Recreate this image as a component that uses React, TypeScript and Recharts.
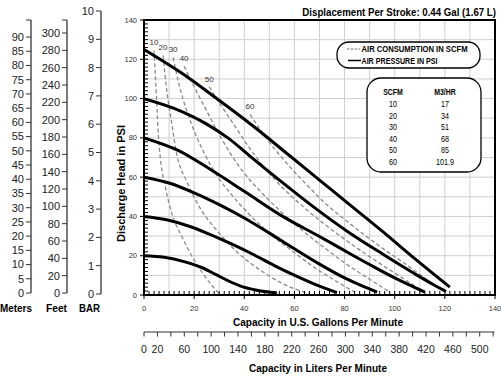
import React from 'react';
import { ComposedChart, Line, XAxis, YAxis, CartesianGrid, ReferenceArea } from 'recharts';

const FONT = "'Liberation Sans', Arial, sans-serif";

// ---- axis ticks / labels ----
const gridGpm = [0, 10, 20, 30, 40, 50, 60, 70, 80, 90, 100, 110, 120, 130, 140];
const gridPsi = [0, 10, 20, 30, 40, 50, 60, 70, 80, 90, 100, 110, 120, 130, 140];
const minorTicks = Array.from({ length: 71 }, (_, i) => i * 2);
const meterTicks = [0, 5, 10, 15, 20, 25, 30, 35, 40, 45, 50, 55, 60, 65, 70, 75, 80, 85, 90, 96];
const feetTicks = [0, 20, 40, 60, 80, 100, 120, 140, 160, 180, 200, 220, 240, 260, 280, 300, 315];
const barTicks = [0, 1, 2, 3, 4, 5, 6, 7, 8, 9, 10];
const literTicks = [0, 20, 40, 60, 80, 100, 120, 140, 160, 180, 200, 220, 240, 260, 280, 300, 320, 340, 360, 380, 400, 420, 440, 460, 480, 500, 520];
const literLabels = [0, 20, 60, 100, 140, 180, 220, 260, 300, 340, 380, 420, 460, 500];

// ---- legend table ----
const scfmLevels = [10, 20, 30, 40, 50, 60];
const m3hrValues = ['17', '34', '51', '68', '85', '101.9'];

// ---- air pressure curves (gpm, psi) ----
const psi20 = [
  { gpm: 0, psi: 20 }, { gpm: 8, psi: 19.2 }, { gpm: 16, psi: 17 }, { gpm: 23, psi: 14 },
  { gpm: 29, psi: 10.2 }, { gpm: 34, psi: 7 }, { gpm: 38, psi: 4.8 }, { gpm: 45, psi: 2.4 }, { gpm: 53, psi: 1 },
];
const psi40 = [
  { gpm: 0, psi: 40 }, { gpm: 9, psi: 38.3 }, { gpm: 18, psi: 35 }, { gpm: 26, psi: 31 }, { gpm: 34, psi: 26.5 },
  { gpm: 43, psi: 21 }, { gpm: 52, psi: 15 }, { gpm: 61, psi: 9.5 }, { gpm: 70, psi: 4.5 }, { gpm: 77, psi: 1.2 },
];
const psi60 = [
  { gpm: 0, psi: 60 }, { gpm: 10, psi: 57 }, { gpm: 20, psi: 52 }, { gpm: 30, psi: 46 }, { gpm: 40, psi: 39.2 },
  { gpm: 50, psi: 31.5 }, { gpm: 60, psi: 23.5 }, { gpm: 70, psi: 15.7 }, { gpm: 80, psi: 8.7 }, { gpm: 87, psi: 4.6 }, { gpm: 93, psi: 1.5 },
];
const psi80 = [
  { gpm: 0, psi: 80 }, { gpm: 14, psi: 73.4 }, { gpm: 27, psi: 63.5 }, { gpm: 40, psi: 52.8 }, { gpm: 56, psi: 39.5 },
  { gpm: 70, psi: 29.8 }, { gpm: 80, psi: 22.6 }, { gpm: 90, psi: 15.5 }, { gpm: 100, psi: 8.7 }, { gpm: 106, psi: 5 }, { gpm: 112, psi: 1.5 },
];
const psi100 = [
  { gpm: 0, psi: 100 }, { gpm: 12, psi: 95 }, { gpm: 25, psi: 87 }, { gpm: 34, psi: 79.5 }, { gpm: 42, psi: 71 },
  { gpm: 55, psi: 57.5 }, { gpm: 68, psi: 44.5 }, { gpm: 81, psi: 32.5 }, { gpm: 95, psi: 21 }, { gpm: 108, psi: 10.8 },
  { gpm: 115, psi: 5.6 }, { gpm: 120.5, psi: 1.8 },
];
const psi120 = [
  { gpm: 0, psi: 125 }, { gpm: 15, psi: 113 }, { gpm: 29, psi: 100 }, { gpm: 44, psi: 85.5 }, { gpm: 58, psi: 71 },
  { gpm: 70, psi: 58.5 }, { gpm: 82, psi: 46 }, { gpm: 95, psi: 32.5 }, { gpm: 108, psi: 18.5 }, { gpm: 122, psi: 4 },
];

// ---- air consumption curves (gpm, psi) ----
const scfm10 = [
  { gpm: 4, psi: 124.5 }, { gpm: 4.6, psi: 110 }, { gpm: 5.2, psi: 95 }, { gpm: 5.8, psi: 80 }, { gpm: 6.5, psi: 70 },
  { gpm: 8.5, psi: 55 }, { gpm: 11.5, psi: 40 }, { gpm: 15, psi: 30 }, { gpm: 19, psi: 20 }, { gpm: 24, psi: 10 }, { gpm: 30, psi: 0.5 },
];
const scfm20 = [
  { gpm: 7.6, psi: 122 }, { gpm: 9, psi: 105 }, { gpm: 11, psi: 88 }, { gpm: 13, psi: 72 }, { gpm: 17, psi: 58 },
  { gpm: 22, psi: 45 }, { gpm: 29, psi: 33 }, { gpm: 37, psi: 22 }, { gpm: 46, psi: 13 }, { gpm: 55, psi: 6 }, { gpm: 66, psi: 0.5 },
];
const scfm30 = [
  { gpm: 11.6, psi: 121 }, { gpm: 14, psi: 107 }, { gpm: 17, psi: 94 }, { gpm: 20.5, psi: 82 }, { gpm: 24.5, psi: 71 },
  { gpm: 29, psi: 61 }, { gpm: 35, psi: 51 }, { gpm: 42, psi: 41 }, { gpm: 50, psi: 31.5 }, { gpm: 59, psi: 22.5 },
  { gpm: 68, psi: 14 }, { gpm: 76, psi: 7.5 }, { gpm: 84, psi: 1.5 },
];
const scfm40 = [
  { gpm: 16, psi: 116.5 }, { gpm: 20, psi: 106 }, { gpm: 24.5, psi: 95 }, { gpm: 29, psi: 84 }, { gpm: 34, psi: 73 },
  { gpm: 40, psi: 62 }, { gpm: 47, psi: 52 }, { gpm: 55, psi: 42 }, { gpm: 63, psi: 33 }, { gpm: 72, psi: 24 },
  { gpm: 81, psi: 15.5 }, { gpm: 90, psi: 8 }, { gpm: 98, psi: 1.5 },
];
const scfm50 = [
  { gpm: 26, psi: 106 }, { gpm: 31, psi: 96 }, { gpm: 36.5, psi: 85.5 }, { gpm: 42, psi: 75 }, { gpm: 48, psi: 65 },
  { gpm: 55, psi: 55 }, { gpm: 63, psi: 45.5 }, { gpm: 72, psi: 36 }, { gpm: 81, psi: 27.5 }, { gpm: 90, psi: 19.5 },
  { gpm: 99, psi: 12 }, { gpm: 107, psi: 5.5 }, { gpm: 112, psi: 1.5 },
];
const scfm60 = [
  { gpm: 42.3, psi: 92 }, { gpm: 47, psi: 83 }, { gpm: 52, psi: 74.5 }, { gpm: 58, psi: 65.5 }, { gpm: 65, psi: 56 },
  { gpm: 72, psi: 47 }, { gpm: 80, psi: 38.5 }, { gpm: 88, psi: 30.5 }, { gpm: 96, psi: 23 }, { gpm: 104, psi: 16 },
  { gpm: 111, psi: 9.5 }, { gpm: 117, psi: 4 }, { gpm: 120, psi: 1.5 },
];

const pressureSeries = [psi20, psi40, psi60, psi80, psi100, psi120];
const scfmSeries = [scfm10, scfm20, scfm30, scfm40, scfm50, scfm60];

const GpmTick = (props: any) => {
  const { x, y, payload } = props;
  const v = payload.value;
  const major = v % 20 === 0;
  return (
    <g>
      <line x1={x} x2={x} y1={y - 1} y2={y - 4} stroke="#000" strokeWidth={1} />
      {major ? <line x1={x} x2={x} y1={y} y2={y + 4} stroke="#000" strokeWidth={1} /> : null}
      {major ? (
        <text x={x} y={y + 16} textAnchor="middle" fontSize={7.5} fill="#333" fontFamily={FONT}>{v}</text>
      ) : null}
    </g>
  );
};

const PsiTick = (props: any) => {
  const { x, y, payload } = props;
  const v = payload.value;
  const major = v % 20 === 0;
  return (
    <g>
      <line x1={x + 1} x2={x + 4} y1={y} y2={y} stroke="#000" strokeWidth={1} />
      {major ? <line x1={x - 4} x2={x} y1={y} y2={y} stroke="#000" strokeWidth={1} /> : null}
      {major ? (
        <text x={x - 7} y={y + 2.6} textAnchor="end" fontSize={7.5} fill="#333" fontFamily={FONT}>{v}</text>
      ) : null}
    </g>
  );
};

const makeLabel = (name: number) => (props: any) => {
  if (props.index !== 0) return <g key={'l' + props.index} />;
  return (
    <text key="lab" x={props.x} y={props.y - 5} textAnchor="middle" fontSize={8} fill="#333" fontFamily={FONT}>{name}</text>
  );
};

const sideTick = { fontSize: 11, fill: '#222', fontFamily: FONT };

export default function App() {
  return (
    <div style={{ position: 'absolute', left: 0, top: 0, width: 501, height: 376, background: '#fff', overflow: 'hidden' }}>
      {/* Meters axis */}
      <div style={{ position: 'absolute', left: 0, top: 0 }}>
        <ComposedChart width={40} height={376} margin={{ top: 20, right: 5, bottom: 83, left: 0 }}>
          <YAxis type="number" domain={[0, 96]} ticks={meterTicks} width={31} interval={0}
            tickFormatter={(v: number) => (v % 5 === 0 ? String(v) : '')}
            tick={sideTick} tickSize={5} tickMargin={2}
            axisLine={{ stroke: '#333', strokeWidth: 1.3 }} tickLine={{ stroke: '#333' }} allowDataOverflow />
        </ComposedChart>
      </div>
      {/* Feet axis */}
      <div style={{ position: 'absolute', left: 0, top: 0 }}>
        <ComposedChart width={75} height={376} margin={{ top: 20, right: 4, bottom: 83, left: 0 }}>
          <YAxis type="number" domain={[0, 315]} ticks={feetTicks} width={67} interval={0}
            tickFormatter={(v: number) => (v % 20 === 0 ? String(v) : '')}
            tick={sideTick} tickSize={5} tickMargin={2}
            axisLine={{ stroke: '#333', strokeWidth: 1.3 }} tickLine={{ stroke: '#333' }} allowDataOverflow />
        </ComposedChart>
      </div>
      {/* BAR axis */}
      <div style={{ position: 'absolute', left: 0, top: 0 }}>
        <ComposedChart width={110} height={376} margin={{ top: 11, right: 5, bottom: 82, left: 0 }}>
          <YAxis type="number" domain={[0, 10]} ticks={barTicks} width={101} interval={0}
            tick={sideTick} tickSize={5} tickMargin={2}
            axisLine={{ stroke: '#333', strokeWidth: 1.3 }} tickLine={{ stroke: '#333' }} allowDataOverflow />
        </ComposedChart>
      </div>
      {/* Liters axis (vertical layout so the numeric X axis stands alone) */}
      <div style={{ position: 'absolute', left: 0, top: 0 }}>
        <ComposedChart layout="vertical" width={501} height={376} margin={{ top: 300, right: 6.5, bottom: 20, left: 144 }}>
          <XAxis type="number" domain={[0, 522]} ticks={literTicks} height={24} interval={0}
            tickFormatter={(v: number) => (literLabels.includes(v) ? String(v) : '')}
            tick={{ fontSize: 10.5, fill: '#222', fontFamily: FONT }} tickSize={4.5} tickMargin={9}
            axisLine={{ stroke: '#333', strokeWidth: 1.2 }} tickLine={{ stroke: '#333' }} allowDataOverflow />
        </ComposedChart>
      </div>
      {/* Main chart */}
      <div style={{ position: 'absolute', left: 0, top: 0 }}>
        <ComposedChart width={501} height={376} margin={{ top: 20, right: 6, bottom: 61, left: 114 }}>
          <CartesianGrid stroke="#cfcfcf" strokeWidth={1} verticalValues={gridGpm} horizontalValues={gridPsi} />
          <XAxis type="number" dataKey="gpm" domain={[0, 140]} ticks={minorTicks} height={20} interval={0}
            tickSize={0} tickMargin={0} tickLine={false} tick={<GpmTick />}
            axisLine={{ stroke: '#000', strokeWidth: 2 }} allowDataOverflow />
          <YAxis type="number" domain={[0, 140]} ticks={minorTicks} width={30} interval={0}
            tickSize={0} tickMargin={0} tickLine={false} tick={<PsiTick />}
            axisLine={{ stroke: '#000', strokeWidth: 2 }} allowDataOverflow />
          <ReferenceArea x1={0} x2={140} y1={0} y2={140} fill="none" stroke="#000" strokeWidth={2} ifOverflow="visible" />
          {scfmSeries.map((d, i) => (
            <Line key={'s' + i} data={d} dataKey="psi" type="monotone" stroke="#8a8a8a" strokeWidth={1.3}
              strokeDasharray="4 2.5" dot={false} isAnimationActive={false} label={makeLabel(scfmLevels[i])} />
          ))}
          {pressureSeries.map((d, i) => (
            <Line key={'p' + i} data={d} dataKey="psi" type="monotone" stroke="#000" strokeWidth={3}
              dot={false} isAnimationActive={false} />
          ))}
        </ComposedChart>
      </div>
      {/* Texts and legends */}
      <svg width={501} height={376} style={{ position: 'absolute', left: 0, top: 0, pointerEvents: 'none' }} fontFamily={FONT}>
        <text transform="translate(496 15.5) scale(0.88 1)" textAnchor="end" fontSize={11} fontWeight="bold">
          Displacement Per Stroke: 0.44 Gal (1.67 L)
        </text>
        <text x={318} y={326} textAnchor="middle" fontSize={10.5} fontWeight="bold" textLength={170} lengthAdjust="spacingAndGlyphs">
          Capacity in U.S. Gallons Per Minute
        </text>
        <text x={318} y={372} textAnchor="middle" fontSize={10.5} fontWeight="bold" textLength={138} lengthAdjust="spacingAndGlyphs">
          Capacity in Liters Per Minute
        </text>
        <text transform="translate(125,183.5) rotate(-90)" textAnchor="middle" fontSize={10.5} fontWeight="bold" textLength={117} lengthAdjust="spacingAndGlyphs">
          Discharge Head in PSI
        </text>
        <text x={16} y={312} textAnchor="middle" fontSize={10.5} fontWeight="bold" textLength={32} lengthAdjust="spacingAndGlyphs">Meters</text>
        <text x={56.5} y={312} textAnchor="middle" fontSize={10.5} fontWeight="bold" textLength={21} lengthAdjust="spacingAndGlyphs">Feet</text>
        <text x={89.5} y={312} textAnchor="middle" fontSize={10.5} fontWeight="bold" textLength={21} lengthAdjust="spacingAndGlyphs">BAR</text>

        <rect x={337} y={42} width={143} height={26} rx={12} ry={12} fill="#fff" stroke="#000" strokeWidth={1.3} />
        <line x1={347} x2={360} y1={49} y2={49} stroke="#777" strokeWidth={1.2} strokeDasharray="2.5 1.3" />
        <text x={361.5} y={52} fontSize={8.5} fontWeight="bold" textLength={106} lengthAdjust="spacingAndGlyphs">AIR CONSUMPTION IN SCFM</text>
        <line x1={348} x2={361} y1={60.5} y2={60.5} stroke="#000" strokeWidth={1.5} />
        <text x={361.5} y={63.5} fontSize={8.5} fontWeight="bold" textLength={76} lengthAdjust="spacingAndGlyphs">AIR PRESSURE IN PSI</text>

        <rect x={367} y={78} width={114} height={94} rx={14} ry={14} fill="#fff" stroke="#000" strokeWidth={1.3} />
        <text transform="translate(393 95) scale(0.82 1)" textAnchor="middle" fontSize={8.5} fontWeight="bold">SCFM</text>
        <text transform="translate(445 95) scale(0.82 1)" textAnchor="middle" fontSize={8.5} fontWeight="bold">M3/HR</text>
        {scfmLevels.map((s, i) => (
          <g key={'row' + i}>
            <text transform={`translate(393 ${107 + i * 11.5}) scale(0.8 1)`} textAnchor="middle" fontSize={9}>{s}</text>
            <text transform={`translate(445 ${107 + i * 11.5}) scale(0.8 1)`} textAnchor="middle" fontSize={9}>{m3hrValues[i]}</text>
          </g>
        ))}
      </svg>
    </div>
  );
}
